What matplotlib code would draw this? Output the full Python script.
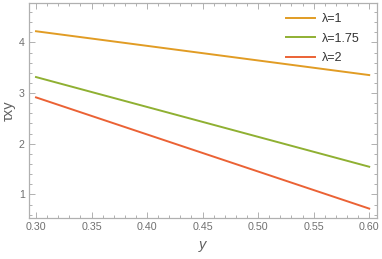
import matplotlib
matplotlib.use("Agg")
import matplotlib.pyplot as plt
from matplotlib.ticker import MultipleLocator, FormatStrFormatter

y_vals = [0.30, 0.60]
tau_l1 = [4.22, 3.355]
tau_l175 = [3.316, 1.546]
tau_l2 = [2.915, 0.72]
labels = ["λ=1", "λ=1.75", "λ=2"]
colors = ["#E19C24", "#8FB032", "#EB6235"]

plt.rcParams['font.family'] = ['Liberation Sans', 'DejaVu Sans']
fig = plt.figure(figsize=(3.82, 2.59), dpi=100)
ax = fig.add_axes([0.0759, 0.158, 0.911, 0.829])

for vals, lab, c in zip([tau_l1, tau_l175, tau_l2], labels, colors):
    ax.plot(y_vals, vals, color=c, lw=1.4, label=lab)

ax.set_xlim(0.2937, 0.607)
ax.set_ylim(0.533, 4.77)
ax.xaxis.set_major_locator(MultipleLocator(0.05))
ax.xaxis.set_minor_locator(MultipleLocator(0.01))
ax.yaxis.set_major_locator(MultipleLocator(1))
ax.yaxis.set_minor_locator(MultipleLocator(0.2))
ax.xaxis.set_major_formatter(FormatStrFormatter('%.2f'))
frame_c = '#B0B0B0'
for s in ax.spines.values():
    s.set_color(frame_c)
    s.set_linewidth(0.9)
ax.tick_params(which='both', direction='in', top=True, right=True, color=frame_c,
               labelcolor='#707070', labelsize=7.7, width=0.7)
ax.tick_params(which='major', length=4, pad=3)
ax.tick_params(which='minor', length=2)
ax.set_xlabel('y', fontsize=10.5, color='#606060', style='italic', labelpad=4)
ax.set_ylabel('τxy', fontsize=10.5, color='#606060', labelpad=2)

leg = ax.legend(loc='upper right', frameon=False, fontsize=9, handlelength=2.3,
                handletextpad=0.6, labelspacing=0.6, borderaxespad=0.4,
                bbox_to_anchor=(0.98, 1.0))
for t in leg.get_texts():
    t.set_color('#333333')

fig.savefig('out.png', dpi=100)
